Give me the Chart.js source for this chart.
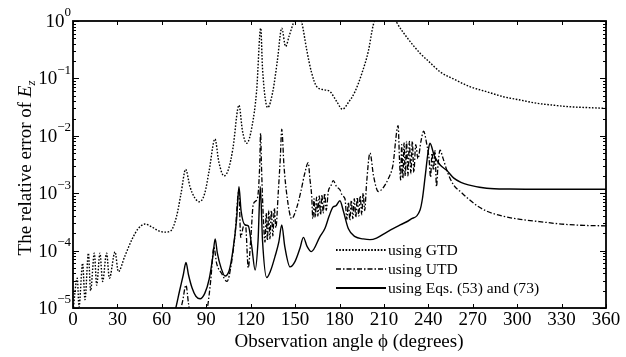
<!DOCTYPE html>
<html>
<head>
<meta charset="utf-8">
<script src="https://cdn.jsdelivr.net/npm/chart.js"></script>
<style>
  html, body { margin: 0; padding: 0; background: #fff; }
  #wrap { width: 626px; height: 357px; }
</style>
</head>
<body>
<div id="wrap"><canvas id="grafico" width="626" height="357"></canvas></div>
<script>
// angulos (graus) e erro relativo
const gtdAngles = [0, 2.9, 4.05, 6.5, 8.1, 10.4, 11.9, 14.4, 16, 18.2, 20, 22.7, 24.6, 28.4, 30.6,
  35, 40, 44, 48.6, 53, 58, 62, 66, 70, 73, 76.1, 79, 82, 85.3, 89, 92, 95.9, 98.5, 102, 105, 108,
  112.1, 114.5, 117.3, 121, 124, 126.8, 128, 131.5, 135, 138, 141, 143.6, 146, 149, 151.5, 154.5,
  158, 161, 164.6, 170, 173.6, 178, 182, 186, 190.5, 195, 199.5, 202.8, 211, 218.6, 226, 234.4,
  241, 248, 258, 268, 280, 290.6, 302, 313, 325, 335.7, 348, 360];
const gtdValues = [9e-6, 3.3e-5, 1.05e-5, 6e-5, 1.4e-5, 9e-5, 2e-5, 9e-5, 2.5e-5, 9e-5, 2.9e-5, 9e-5, 3.3e-5, 9.5e-5, 4.3e-5,
  8e-5, 1.6e-4, 2.4e-4, 2.9e-4, 2.6e-4, 2.2e-4, 2.1e-4, 2.2e-4, 4e-4, 1e-3, 2.6e-3, 1.3e-3, 8.5e-4, 7.1e-4, 1e-3, 2.5e-3, 8.8e-3, 3.5e-3, 2e-3, 2.6e-3, 6e-3,
  3.4e-2, 1.2e-2, 7.4e-3, 1.5e-2, 6e-2, 0.75, 0.15, 3.1e-2, 6e-2, 0.2, 0.75, 0.36, 0.55, 0.95, 1.5, 0.95,
  0.3, 0.13, 0.072, 0.063, 0.059, 0.04, 0.029, 0.038, 0.059, 0.12, 0.3, 0.85, 2.5, 0.95, 0.5, 0.275,
  0.19, 0.13, 0.095, 0.072, 0.058, 0.048, 0.042, 0.037, 0.034, 0.032, 0.031, 0.030];

const utdAngles = [70, 74, 76.3, 78, 80, 88, 91, 93, 95.2, 97, 100.4, 104, 107, 109.5, 112,
  113.3, 115, 116.5, 118.4, 120, 121.8, 124.5, 126.1, 126.7, 127.3, 128.5, 129.7, 130.5, 131.3, 132.2,
  133, 134, 135, 136, 137, 138.7, 140, 141, 142.5, 144.5, 147.7, 151, 154, 156.5, 158.9, 160, 161.2,
  162, 162.8, 163.6, 164.5, 165.4, 166.3, 167.2, 168.1, 169, 170, 171, 172.5, 174, 175.8, 178, 180.3,
  182, 183.7, 185, 186, 187, 188, 189, 190, 191, 192, 193, 194, 195, 196, 197, 198.3, 200.6, 203,
  206.2, 209, 213, 216, 219.6, 220.5, 221.3, 222, 222.8, 223.6, 224.4, 225.3, 226.2, 227.2, 228.2,
  229.2, 230.2, 231.5, 233, 235, 236.8, 239, 240.5, 241.5, 242.5, 243.5, 244.5, 245.5, 246.5, 247.9,
  250, 253, 257, 262, 267, 274, 280, 290, 302, 315, 330, 345, 360];
const utdValues = [5e-6, 1.3e-5, 2.5e-5, 1.2e-5, 6e-6, 6e-6, 1.1e-5, 3e-5, 1.15e-4, 6e-5, 4e-5, 2.9e-5, 6e-5, 2e-4, 1.1e-3,
  1.7e-4, 2.6e-4, 2.8e-4, 5e-5, 1.5e-4, 6.5e-4, 8e-4, 3e-3, 1.1e-2, 3e-3, 4e-4, 1.4e-4, 4.5e-4, 1.5e-4, 5e-4,
  1.6e-4, 5e-4, 1.8e-4, 5.5e-4, 2.5e-4, 1.1e-3, 4e-3, 1.3e-2, 3e-3, 9e-4, 3.6e-4, 5.5e-4, 1.1e-3, 2.2e-3, 3.4e-3, 1.8e-3, 9e-4,
  3.6e-4, 8e-4, 3.8e-4, 8.5e-4, 4e-4, 9e-4, 4.2e-4, 9.5e-4, 4.5e-4, 1e-3, 5e-4, 1.1e-3, 1.3e-3, 1.65e-3, 1.3e-3, 1.15e-3,
  9e-4, 8e-4, 3.5e-4, 7e-4, 3.4e-4, 7.5e-4, 3.6e-4, 8e-4, 3.8e-4, 8.5e-4, 4e-4, 9e-4, 4.2e-4, 1e-3, 5e-4, 1.5e-3, 5e-3, 2e-3,
  1.07e-3, 1.2e-3, 1.8e-3, 3e-3, 1.5e-2, 4e-3, 1.7e-3, 7e-3, 1.8e-3, 7.5e-3, 2e-3, 8e-3, 2e-3, 8e-3, 2.2e-3,
  8e-3, 2.3e-3, 7e-3, 4e-3, 8e-3, 1.2e-2, 7e-3, 4e-3, 1.9e-3, 5e-3, 2.5e-3, 5.5e-3, 1.3e-3, 3e-3, 5.6e-3,
  4e-3, 2.3e-3, 1.4e-3, 1.05e-3, 8e-4, 5.8e-4, 4.8e-4, 4e-4, 3.5e-4, 3.2e-4, 2.9e-4, 2.75e-4, 2.7e-4];

const eqAngles = [60, 66, 69, 72, 74.5, 76.3, 78, 80.5, 83, 85.8, 89, 92, 94.5, 96, 97.5, 100, 102.7,
  105.5, 108, 110.5, 112.1, 113.5, 116.2, 118.4, 120.7, 123, 125, 126.5, 128, 130.8, 133.5, 136.5,
  139, 141, 143, 146.6, 150, 153.3, 155.6, 158, 161, 166.8, 170.2, 173, 175.8, 177.5, 180.3, 182.5,
  186, 190.5, 196, 200.6, 205, 212, 221, 228, 234.4, 236, 237.8, 240, 241.1, 244, 248, 252.4, 257,
  262, 267, 279.4, 295, 320, 360];
const eqValues = [3e-6, 5e-6, 9e-6, 2e-5, 3.8e-5, 6.2e-5, 3.8e-5, 2.2e-5, 1.6e-5, 1.45e-5, 1.8e-5, 3.2e-5, 8e-5, 1.6e-4, 9e-5, 5e-5, 3.6e-5,
  4.5e-5, 1e-4, 3.5e-4, 1.3e-3, 5e-4, 2.8e-4, 2.7e-4, 1.2e-4, 4.6e-5, 1.5e-4, 1.3e-3, 1.5e-4, 3.4e-5, 4.5e-5, 8e-5,
  1.4e-4, 2.8e-4, 1.2e-4, 5.2e-5, 6.5e-5, 1.1e-4, 1.7e-4, 1.2e-4, 9.6e-5, 1.75e-4, 2.45e-4, 4e-4, 5.8e-4, 6e-4, 7.4e-4, 5e-4,
  2.4e-4, 1.75e-4, 1.6e-4, 1.55e-4, 1.65e-4, 2.1e-4, 2.8e-4, 3.5e-4, 5.1e-4, 8e-4, 1.9e-3, 5.6e-3, 7.4e-3, 4.5e-3, 3.1e-3, 2.5e-3, 1.85e-3,
  1.55e-3, 1.4e-3, 1.22e-3, 1.18e-3, 1.17e-3, 1.17e-3];

const xTicks = [0, 30, 60, 90, 120, 150, 180, 210, 240, 270, 300, 330, 360];
const yDecades = [0, -1, -2, -3, -4, -5];
const seriesLabels = ['using GTD', 'using UTD', 'using Eqs. (53) and (73)'];

const serif = "'Liberation Serif', 'Times New Roman', serif";

function pares(angulos, valores) {
  return angulos.map((a, i) => ({ x: a, y: valores[i] }));
}

const estilos = [
  { borderDash: [1.6, 1.6], borderWidth: 1.4 },
  { borderDash: [5, 2, 1.5, 2], borderWidth: 1.3 },
  { borderDash: [], borderWidth: 1.4 }
];

// moldura, ticks para dentro, rótulos com expoente, títulos e legenda
const moldura = {
  id: 'moldura',
  afterDraw(chart) {
    const ctx = chart.ctx;
    const a = chart.chartArea;
    const xs = chart.scales.x;
    const ys = chart.scales.y;
    ctx.save();
    ctx.strokeStyle = '#000';
    ctx.fillStyle = '#000';

    ctx.lineWidth = 1;
    ctx.beginPath();
    xTicks.forEach(t => {
      const px = Math.round(xs.getPixelForValue(t)) + 0.5;
      ctx.moveTo(px, a.bottom); ctx.lineTo(px, a.bottom - 4);
      ctx.moveTo(px, a.top); ctx.lineTo(px, a.top + 4);
    });
    yDecades.forEach(k => {
      for (let m = 1; m <= 9; m++) {
        if (k === 0 && m > 1) break;
        const py = Math.round(ys.getPixelForValue(m * Math.pow(10, k))) + 0.5;
        const len = m === 1 ? 6 : 3;
        ctx.moveTo(a.left, py); ctx.lineTo(a.left + len, py);
        ctx.moveTo(a.right, py); ctx.lineTo(a.right - len, py);
      }
    });
    ctx.stroke();

    ctx.lineWidth = 1.8;
    ctx.strokeRect(a.left, a.top, a.right - a.left, a.bottom - a.top);

    // rótulos do eixo y: 10 com expoente
    ctx.textBaseline = 'middle';
    yDecades.forEach(k => {
      const py = ys.getPixelForValue(Math.pow(10, k));
      const sup = k === 0 ? '0' : '\u2212' + (-k);
      ctx.font = '13px ' + serif;
      const ws = ctx.measureText(sup).width;
      const xr = a.left - 2;
      ctx.textAlign = 'right';
      ctx.fillText(sup, xr, py - 8);
      ctx.font = '19px ' + serif;
      ctx.fillText('10', xr - ws, py + 1);
    });

    // título do eixo x
    ctx.font = '19px ' + serif;
    ctx.textAlign = 'center';
    ctx.textBaseline = 'alphabetic';
    ctx.fillText('Observation angle \u03D5 (degrees)', 349, 347);

    // título do eixo y (rotacionado)
    ctx.save();
    ctx.translate(31, 168);
    ctx.rotate(-Math.PI / 2);
    const t1 = 'The relative error of ';
    ctx.font = '19px ' + serif;
    const w1 = ctx.measureText(t1).width;
    ctx.font = 'italic 19px ' + serif;
    const w2 = ctx.measureText('E').width;
    ctx.font = 'italic 13px ' + serif;
    const w3 = ctx.measureText('z').width;
    let x0 = -(w1 + w2 + w3) / 2;
    ctx.textAlign = 'left';
    ctx.font = '19px ' + serif;
    ctx.fillText(t1, x0, 0);
    ctx.font = 'italic 19px ' + serif;
    ctx.fillText('E', x0 + w1, 0);
    ctx.font = 'italic 13px ' + serif;
    ctx.fillText('z', x0 + w1 + w2, 4);
    ctx.restore();

    // legenda
    const ly = [250, 269, 288];
    seriesLabels.forEach((lab, i) => {
      const st = estilos[i];
      ctx.beginPath();
      ctx.lineWidth = st.borderWidth + 0.4;
      ctx.setLineDash(st.borderDash);
      ctx.moveTo(336, ly[i]);
      ctx.lineTo(386, ly[i]);
      ctx.stroke();
      ctx.setLineDash([]);
      ctx.font = '15.6px ' + serif;
      ctx.textAlign = 'left';
      ctx.textBaseline = 'alphabetic';
      ctx.fillText(lab, 388, ly[i] + 4.5);
    });
    ctx.restore();
  }
};

const grafico = new Chart(document.getElementById('grafico'), {
  type: 'line',
  data: {
    datasets: [
      { label: seriesLabels[0], data: pares(gtdAngles, gtdValues) },
      { label: seriesLabels[1], data: pares(utdAngles, utdValues) },
      { label: seriesLabels[2], data: pares(eqAngles, eqValues) }
    ].map((d, i) => Object.assign(d, estilos[i], {
      borderColor: '#000',
      pointRadius: 0,
      fill: false,
      cubicInterpolationMode: 'monotone'
    }))
  },
  options: {
    responsive: false,
    animation: false,
    layout: { padding: { left: 0, right: 20, top: 21, bottom: 0 } },
    plugins: { legend: { display: false }, tooltip: { enabled: false } },
    scales: {
      x: {
        type: 'linear',
        min: 0,
        max: 360,
        grid: { display: false, drawTicks: false },
        border: { display: false },
        ticks: {
          stepSize: 30,
          autoSkip: false,
          maxRotation: 0,
          padding: 1,
          color: '#000',
          font: { family: serif, size: 19 }
        },
        afterFit(s) { s.height = 49; }
      },
      y: {
        type: 'logarithmic',
        min: 1e-5,
        max: 1,
        grid: { display: false, drawTicks: false },
        border: { display: false },
        ticks: { display: false },
        afterFit(s) { s.width = 73; }
      }
    }
  },
  plugins: [moldura]
});
</script>
</body>
</html>
